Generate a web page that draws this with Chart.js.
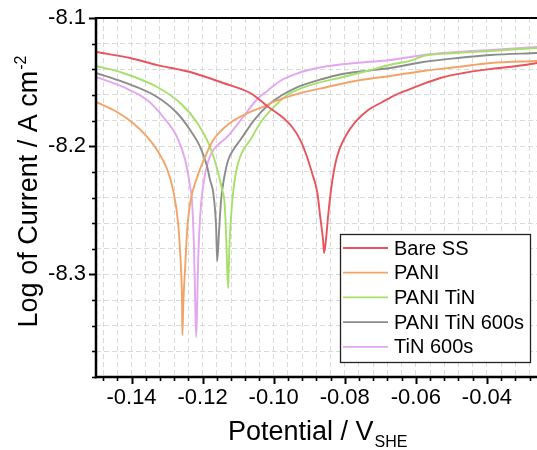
<!DOCTYPE html>
<html><head><meta charset="utf-8">
<script src="https://cdn.jsdelivr.net/npm/chart.js@4.4.0/dist/chart.umd.min.js"></script>
<style>html,body{margin:0;padding:0;background:#fff;overflow:hidden}</style>
</head><body>
<canvas id="c" width="537" height="450"></canvas>
<script>
// ---- data (potential in V_SHE, log current) ----
const seriesNames = ['Bare SS', 'PANI', 'PANI TiN', 'PANI TiN 600s', 'TiN 600s'];
const seriesColors = ['#e8545c', '#f2a468', '#a6e06a', '#8c8c8c', '#e3a6f0'];

const bareX = [-0.1500,-0.1404,-0.1328,-0.1235,-0.1142,-0.1066,-0.1015,-0.0976,-0.0948,-0.0925,-0.0906,-0.0892,-0.0877,-0.0869,-0.0861,-0.0858,-0.0853,-0.0846,-0.0836,-0.0822,-0.0799,-0.0770,-0.0734,-0.0694,-0.0658,-0.0601,-0.0531,-0.0466,-0.0390,-0.0314,-0.0258];
const bareY = [-8.1265,-8.1312,-8.1367,-8.1421,-8.1507,-8.1585,-8.1694,-8.1772,-8.1850,-8.1952,-8.2084,-8.2209,-8.2365,-8.2552,-8.2732,-8.2833,-8.2732,-8.2521,-8.2287,-8.2084,-8.1928,-8.1811,-8.1718,-8.1655,-8.1601,-8.1538,-8.1468,-8.1429,-8.1398,-8.1374,-8.1351];

const paniX = [-0.1500,-0.1441,-0.1396,-0.1356,-0.1328,-0.1300,-0.1283,-0.1269,-0.1261,-0.1258,-0.1257,-0.1254,-0.1249,-0.1244,-0.1235,-0.1215,-0.1193,-0.1170,-0.1123,-0.1066,-0.1018,-0.1001,-0.0945,-0.0849,-0.0756,-0.0672,-0.0579,-0.0483,-0.0390,-0.0258];
const paniY = [-8.1655,-8.1733,-8.1819,-8.1928,-8.2030,-8.2178,-8.2342,-8.2599,-8.2942,-8.3200,-8.3473,-8.3200,-8.2942,-8.2677,-8.2443,-8.2240,-8.2084,-8.1952,-8.1819,-8.1733,-8.1679,-8.1655,-8.1601,-8.1538,-8.1484,-8.1452,-8.1413,-8.1382,-8.1351,-8.1335];

const paniTinX = [-0.1500,-0.1424,-0.1328,-0.1263,-0.1215,-0.1179,-0.1156,-0.1145,-0.1139,-0.1134,-0.1131,-0.1128,-0.1125,-0.1120,-0.1111,-0.1100,-0.1086,-0.1066,-0.1038,-0.1010,-0.0962,-0.0897,-0.0804,-0.0728,-0.0663,-0.0616,-0.0579,-0.0483,-0.0390,-0.0258];
const paniTinY = [-8.1374,-8.1429,-8.1538,-8.1663,-8.1819,-8.2006,-8.2209,-8.2342,-8.2420,-8.2677,-8.2942,-8.3106,-8.2810,-8.2552,-8.2287,-8.2131,-8.2030,-8.1952,-8.1819,-8.1725,-8.1601,-8.1523,-8.1460,-8.1406,-8.1359,-8.1335,-8.1296,-8.1273,-8.1257,-8.1234];

const paniTin600X = [-0.1500,-0.1424,-0.1328,-0.1272,-0.1235,-0.1207,-0.1187,-0.1179,-0.1170,-0.1162,-0.1159,-0.1154,-0.1148,-0.1139,-0.1128,-0.1114,-0.1094,-0.1055,-0.1015,-0.0976,-0.0939,-0.0863,-0.0807,-0.0742,-0.0672,-0.0579,-0.0483,-0.0390,-0.0258];
const paniTin600Y = [-8.1429,-8.1499,-8.1616,-8.1741,-8.1874,-8.2006,-8.2162,-8.2264,-8.2365,-8.2630,-8.2895,-8.2677,-8.2420,-8.2240,-8.2108,-8.2030,-8.1952,-8.1796,-8.1679,-8.1601,-8.1546,-8.1476,-8.1437,-8.1413,-8.1390,-8.1343,-8.1312,-8.1289,-8.1273];

const tin600X = [-0.1500,-0.1424,-0.1356,-0.1311,-0.1272,-0.1249,-0.1235,-0.1230,-0.1224,-0.1221,-0.1218,-0.1215,-0.1213,-0.1207,-0.1199,-0.1185,-0.1170,-0.1131,-0.1086,-0.1046,-0.1018,-0.0982,-0.0939,-0.0863,-0.0770,-0.0672,-0.0579,-0.0483,-0.0390,-0.0258];
const tin600Y = [-8.1460,-8.1538,-8.1640,-8.1772,-8.1928,-8.2108,-8.2318,-8.2420,-8.2810,-8.3200,-8.3488,-8.3200,-8.2942,-8.2552,-8.2318,-8.2123,-8.2030,-8.1928,-8.1772,-8.1632,-8.1569,-8.1491,-8.1437,-8.1382,-8.1351,-8.1328,-8.1289,-8.1265,-8.1250,-8.1226];

// ---- axes ----
const xMin = -0.15, xMax = -0.0259, xMinorStep = 0.004;
const xMajor = [-0.14, -0.12, -0.10, -0.08, -0.06, -0.04];
const xLabels = ['-0.14', '-0.12', '-0.10', '-0.08', '-0.06', '-0.04'];
const yMin = -8.38, yMax = -8.1, yMinorStep = 0.02;
const yMajor = [-8.1, -8.2, -8.3];
const yLabels = ['-8.1', '-8.2', '-8.3'];
const xTitle = 'Potential / V', xTitleSub = 'SHE';
const yTitle = 'Log of Current / A cm', yTitleSup = '-2';

const FONT = '"Liberation Sans", Arial, sans-serif';

function stepValues(lo, hi, step, dec) {
  const out = [];
  const start = Math.ceil(lo / step - 1e-6) * step;
  for (let v = start; v <= hi + 1e-9; v += step) out.push(+v.toFixed(dec));
  return out;
}
const xMinor = stepValues(xMin, xMax, xMinorStep, 3);
const yMinor = stepValues(yMin, yMax, yMinorStep, 2);
function labelFor(v, majors, labels) {
  const i = majors.findIndex(m => Math.abs(m - v) < 1e-6);
  return i >= 0 ? labels[i] : '';
}

const xs = [bareX, paniX, paniTinX, paniTin600X, tin600X];
const ys = [bareY, paniY, paniTinY, paniTin600Y, tin600Y];
const datasets = seriesNames.map((name, k) => ({
  label: name,
  data: xs[k].map((x, i) => ({ x: x, y: ys[k][i] })),
  borderColor: seriesColors[k],
  backgroundColor: seriesColors[k],
  borderWidth: 1.9,
  pointRadius: 0,
  showLine: true,
  fill: false,
  cubicInterpolationMode: 'monotone'
}));

const decor = {
  id: 'decor',
  afterDraw(chart) {
    const ctx = chart.ctx, ca = chart.chartArea;
    const sx = chart.scales.x, sy = chart.scales.y;
    ctx.save();
    ctx.strokeStyle = '#000';
    ctx.lineCap = 'butt';
    // ticks
    xMinor.forEach(v => {
      const p = Math.round(sx.getPixelForValue(v)) + 0.5;
      const isMaj = xMajor.some(m => Math.abs(m - v) < 1e-6);
      ctx.lineWidth = isMaj ? 2 : 1.6;
      ctx.beginPath(); ctx.moveTo(p, ca.bottom); ctx.lineTo(p, ca.bottom + (isMaj ? 7 : 4)); ctx.stroke();
    });
    yMinor.forEach(v => {
      const p = Math.round(sy.getPixelForValue(v)) + 0.5;
      const isMaj = yMajor.some(m => Math.abs(m - v) < 1e-6);
      ctx.lineWidth = isMaj ? 2 : 1.6;
      ctx.beginPath(); ctx.moveTo(ca.left, p); ctx.lineTo(ca.left - (isMaj ? 7 : 4), p); ctx.stroke();
    });
    // axis lines
    ctx.lineWidth = 2.5;
    ctx.beginPath(); ctx.moveTo(ca.left, ca.top - 1); ctx.lineTo(ca.left, ca.bottom + 1.2); ctx.stroke();
    ctx.beginPath(); ctx.moveTo(ca.left - 1.2, ca.bottom); ctx.lineTo(ca.right, ca.bottom); ctx.stroke();
    ctx.lineWidth = 2;
    ctx.beginPath(); ctx.moveTo(ca.left, ca.top); ctx.lineTo(ca.right, ca.top); ctx.stroke();

    // legend
    const bx = 340, by = 234, bw = 190, bh = 128;
    ctx.fillStyle = '#fff';
    ctx.fillRect(bx, by, bw, bh);
    ctx.lineWidth = 1.3;
    ctx.strokeStyle = '#222';
    ctx.strokeRect(bx + 0.5, by + 0.5, bw, bh);
    ctx.font = '20px ' + FONT;
    ctx.textBaseline = 'middle';
    ctx.textAlign = 'left';
    chart.data.datasets.forEach((d, i) => {
      const cy = by + 14 + i * 24.7;
      ctx.strokeStyle = d.borderColor;
      ctx.lineWidth = 1.8;
      ctx.beginPath(); ctx.moveTo(bx + 3, cy); ctx.lineTo(bx + 48, cy); ctx.stroke();
      ctx.fillStyle = '#000';
      ctx.fillText(d.label, bx + 54, cy + 1);
    });

    // x title with subscript
    ctx.fillStyle = '#000';
    ctx.textBaseline = 'alphabetic';
    ctx.font = '27px ' + FONT;
    const w1 = ctx.measureText(xTitle).width;
    const x0 = 228;
    ctx.fillText(xTitle, x0, 440);
    ctx.font = '16px ' + FONT;
    ctx.fillText(xTitleSub, x0 + w1 + 1, 447);

    // y title with superscript
    ctx.save();
    ctx.translate(37, 0);
    ctx.rotate(-Math.PI / 2);
    ctx.font = '27px ' + FONT;
    const h1 = ctx.measureText(yTitle).width;
    ctx.font = '16px ' + FONT;
    const h2 = ctx.measureText(yTitleSup).width;
    const cyT = 192;
    const start = -(cyT + (h1 + h2) / 2);
    ctx.font = '27px ' + FONT;
    ctx.fillText(yTitle, start, 0);
    ctx.font = '16px ' + FONT;
    ctx.fillText(yTitleSup, start + h1 + 1, -11);
    ctx.restore();
    ctx.restore();
  }
};

new Chart(document.getElementById('c'), {
  type: 'scatter',
  data: { datasets: datasets },
  options: {
    responsive: false,
    animation: false,
    devicePixelRatio: 1,
    layout: { autoPadding: false, padding: { top: 18, right: 0, left: 0, bottom: 0 } },
    plugins: { legend: { display: false }, tooltip: { enabled: false } },
    scales: {
      x: {
        type: 'linear', min: xMin, max: xMax,
        afterBuildTicks: s => { s.ticks = xMinor.map(v => ({ value: v })); },
        afterFit: s => { s.height = 73; s.paddingLeft = 0; s.paddingRight = 0; },
        grid: { color: '#dadada', lineWidth: 1, drawTicks: false },
        border: { display: false, dash: [5, 3] },
        ticks: {
          autoSkip: false, maxRotation: 0, minRotation: 0, padding: 8, color: '#000',
          font: { family: FONT, size: 22 },
          callback: v => labelFor(v, xMajor, xLabels)
        }
      },
      y: {
        type: 'linear', min: yMin, max: yMax,
        afterBuildTicks: s => { s.ticks = yMinor.map(v => ({ value: v })); },
        afterFit: s => { s.width = 96; s.paddingTop = 0; s.paddingBottom = 0; },
        grid: { color: '#dadada', lineWidth: 1, drawTicks: false },
        border: { display: false, dash: [5, 3] },
        ticks: {
          autoSkip: false, padding: 10, color: '#000',
          font: { family: FONT, size: 22 },
          callback: v => labelFor(v, yMajor, yLabels)
        }
      }
    }
  },
  plugins: [decor]
});
</script>
</body></html>
